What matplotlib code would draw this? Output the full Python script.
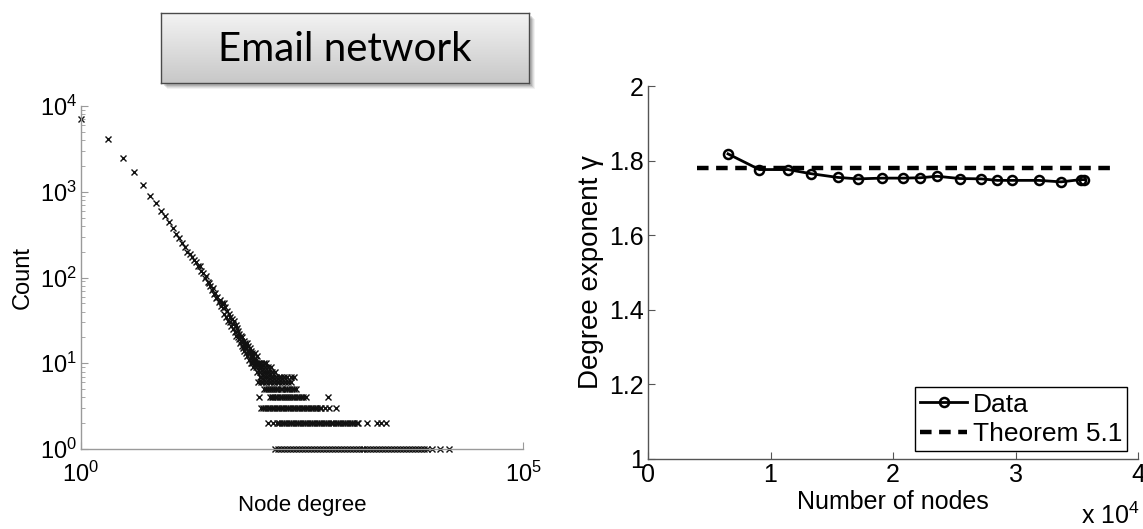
import numpy as np
import matplotlib.pyplot as plt
from matplotlib.colors import LinearSegmentedColormap
from matplotlib.patches import Rectangle
from matplotlib.ticker import FuncFormatter, NullFormatter, LogLocator, FixedLocator

plt.rcParams['font.family'] = ['Liberation Sans', 'DejaVu Sans']
plt.rcParams['mathtext.default'] = 'regular'

# left panel: degree distribution, upper diagonal (degree, count)
deg_main = [1, 2, 3, 4, 5, 6, 7, 8, 9, 10, 11, 12, 13, 14, 15, 16, 17, 18, 19,
            20, 21, 22, 23, 24, 25, 26, 27, 28, 29, 30, 31, 32, 33, 34, 35, 36, 37, 38, 39,
            40, 41, 42, 43, 44, 45, 46, 47, 48, 49, 50, 51, 52, 53, 54, 55, 56, 57, 58, 59,
            60, 61, 62, 63, 64, 65, 66, 67, 68, 69, 70, 71, 72, 73, 74, 75, 76, 77, 78, 79,
            80, 81, 83, 84, 86, 87, 89, 91, 93, 96, 98]
cnt_main = [7000, 4100, 2500, 1700, 1200, 900, 730, 600, 520, 440, 380, 320, 285, 250, 225, 200, 190, 172, 160,
            150, 138, 135, 118, 114, 100, 103, 88, 86, 80, 72, 75, 64, 66, 57, 60, 52, 55, 47, 50,
            44, 50, 38, 45, 35, 41, 31, 38, 30, 35, 27, 33, 29, 25, 31, 23, 28, 21, 26, 20,
            24, 19, 22, 17, 21, 18, 16, 20, 15, 18, 14, 17, 16, 13, 15, 17, 12, 14, 16, 11,
            13, 15, 12, 14, 11, 13, 12, 11, 13, 11, 12]

# tail: degrees that occur with a given small count
deg_cnt10 = [84, 86, 92, 96, 100, 104, 110, 118, 125]
deg_cnt9 = [88, 95, 102, 108, 113, 122, 130, 140]
deg_cnt8 = [97, 106, 115, 120, 128, 135, 145, 155]
deg_cnt7 = [105, 110, 117, 125, 132, 140, 150, 160, 172, 185, 200, 215, 235, 255]
deg_cnt6 = [100, 108, 116, 124, 133, 142, 152, 163, 175, 190, 205, 222, 240]
deg_cnt5 = [117, 123, 130, 137, 145, 153, 162, 171, 181, 186, 204, 215, 228, 242, 257, 272]
deg_cnt4 = [103, 136, 143, 150, 158, 167, 176, 186, 197, 208, 220, 233, 246, 260, 275,
            291, 308, 328, 348, 623]
deg_cnt3 = [109, 115, 122, 129, 137, 145, 154, 163, 173, 184, 195, 207, 220, 233, 247,
            262, 278, 295, 313, 332, 352, 373, 396, 420, 446, 473, 502, 521, 575, 635, 775]
deg_cnt2 = [129, 150, 165, 175, 186, 198, 210, 223, 237, 252, 268, 285, 303, 322, 342,
            364, 387, 411, 437, 465, 494, 525, 558, 593, 630, 670, 712, 757, 805, 855,
            909, 966, 1027, 1092, 1160, 1233, 1310, 1343, 1725, 2213, 2500, 2840]
deg_cnt1 = [157, 170, 183, 198, 214, 231, 250, 270, 292, 315, 341, 368, 398, 430, 465,
            502, 543, 587, 634, 685, 741, 800, 865, 935, 1010, 1092, 1180, 1275, 1378,
            1490, 1610, 1740, 1880, 2033, 2197, 2375, 2567, 2775, 3000, 3242, 3505, 3788,
            4095, 4426, 4784, 5171, 5590, 6042, 6531, 7060, 7630, 8100, 9400, 11500, 14700]
tail_counts = [10, 9, 8, 7, 6, 5, 4, 3, 2, 1]
tail_degrees = [deg_cnt10, deg_cnt9, deg_cnt8, deg_cnt7, deg_cnt6,
                deg_cnt5, deg_cnt4, deg_cnt3, deg_cnt2, deg_cnt1]

# right panel: estimated exponent vs network size
nodes = [6530, 9090, 11420, 13290, 15470, 17130, 19090, 20820, 22240, 23600,
         25440, 27220, 28520, 29700, 31900, 33720, 35320, 35620]
gamma = [1.818, 1.776, 1.776, 1.765, 1.755, 1.751, 1.753, 1.753, 1.754, 1.758,
         1.752, 1.751, 1.747, 1.747, 1.747, 1.743, 1.749, 1.749]
theorem_gamma = 1.78
theorem_span = [4000, 38000]

W, H = 1143, 529
fig = plt.figure(figsize=(W / 100, H / 100), dpi=100)

def px(x0, y0, x1, y1):
    return [x0 / W, 1 - y1 / H, (x1 - x0) / W, (y1 - y0) / H]

# ---- title box with gradient and shadow
for off, a in [(6, 0.05), (5, 0.07), (4, 0.09), (3, 0.12)]:
    fig.patches.append(Rectangle(((161 + off) / W, 1 - (83 + off) / H), 368 / W, 70 / H,
                                 transform=fig.transFigure, facecolor='black',
                                 edgecolor='none', alpha=a, zorder=-1))
axb = fig.add_axes(px(161, 13, 529, 83))
grad = LinearSegmentedColormap.from_list('g', ['#f3f3f3', '#c8c8c8'])
axb.imshow(np.linspace(0, 1, 64).reshape(-1, 1), cmap=grad, aspect='auto',
           extent=[0, 1, 0, 1])
axb.set_xlim(0, 1); axb.set_ylim(0, 1)
axb.set_xticks([]); axb.set_yticks([])
for s in axb.spines.values():
    s.set_color('#4a4a4a'); s.set_linewidth(1.0)
axb.text(0.5, 0.48, 'Email network', ha='center', va='center',
         fontsize=29, family=['Lato', 'DejaVu Sans'], color='black')

# ---- left panel
ax1 = fig.add_axes(px(81, 106, 523, 449))
ax1.plot(deg_main, cnt_main, 'x', color='#111111', ms=4.3, mew=1.0, clip_on=False)
for c, degs in zip(tail_counts, tail_degrees):
    ax1.plot(degs, [c] * len(degs), 'x', color='#111111', ms=4.3, mew=1.0, clip_on=False)
ax1.set_xscale('log'); ax1.set_yscale('log')
ax1.set_xlim(1, 1e5); ax1.set_ylim(1, 1e4)
ax1.xaxis.set_major_locator(FixedLocator([1, 1e5]))
ax1.xaxis.set_minor_locator(FixedLocator([]))
ax1.yaxis.set_major_locator(LogLocator(base=10))
ax1.yaxis.set_minor_locator(LogLocator(base=10, subs=np.arange(2, 10)))
ax1.yaxis.set_minor_formatter(NullFormatter())
for s in ['top', 'right']:
    ax1.spines[s].set_visible(False)
for s in ['left', 'bottom']:
    ax1.spines[s].set_color('#9a9a9a'); ax1.spines[s].set_linewidth(1.0)
ax1.tick_params(which='both', direction='in', color='#9a9a9a', labelsize=17)
ax1.tick_params(axis='x', pad=9)
ax1.tick_params(axis='y', pad=3)
ax1.tick_params(which='major', length=5)
ax1.tick_params(which='minor', length=3)
ax1.set_ylabel('Count', fontsize=17, labelpad=4)
ax1.set_xlabel('Node degree', fontsize=16, labelpad=6)

# ---- right panel
ax2 = fig.add_axes(px(648, 86, 1138, 459))
ax2.plot(nodes, gamma, '-o', color='black', lw=2, ms=6.5, mfc='none', mew=1.8,
         label='Data')
ax2.plot(theorem_span, [theorem_gamma] * 2, color='black', lw=3.2,
         dashes=(2.6, 1.7), label='Theorem 5.1')
ax2.set_xlim(0, 4e4); ax2.set_ylim(1, 2)
ax2.set_xticks([0, 1e4, 2e4, 3e4, 4e4])
ax2.set_yticks([1, 1.2, 1.4, 1.6, 1.8, 2])
ax2.xaxis.set_major_formatter(FuncFormatter(lambda v, p: '%g' % (v / 1e4)))
ax2.yaxis.set_major_formatter(FuncFormatter(lambda v, p: '%g' % v))
for s in ['top', 'right']:
    ax2.spines[s].set_visible(False)
for s in ['left', 'bottom']:
    ax2.spines[s].set_color('#555555'); ax2.spines[s].set_linewidth(1.0)
ax2.tick_params(direction='in', length=5, color='#555555', labelsize=18, pad=3)
ax2.set_ylabel('Degree exponent γ', fontsize=20, labelpad=4)
ax2.set_xlabel('Number of nodes', fontsize=18, labelpad=2)
fig.text(1140 / W, 1 - 516 / H, 'x 10$^4$', ha='right', va='center', fontsize=18)
leg = ax2.legend(loc='lower right', bbox_to_anchor=(0.978, 0.021), borderaxespad=0,
                 fontsize=19, fancybox=False, framealpha=1, edgecolor='black',
                 handlelength=1.8, handletextpad=0.2, borderpad=0.2,
                 labelspacing=0.2)
leg.get_frame().set_linewidth(1.0)

fig.savefig('out.png', dpi=100)
